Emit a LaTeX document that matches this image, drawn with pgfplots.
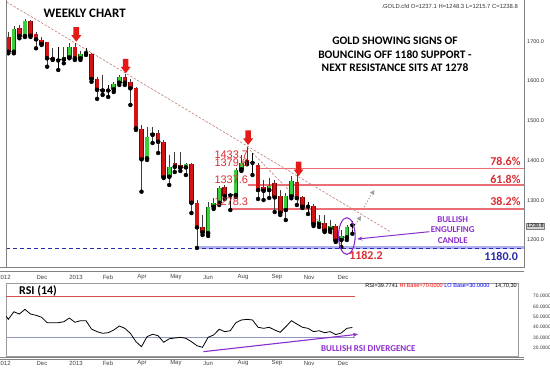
\documentclass[border=0pt]{standalone}
\usepackage{pgfplots}
\pgfplotsset{compat=1.18}
\usepackage{pgfplotstable}
\usepackage{fontspec}
\setmainfont{Liberation Sans}
\newfontfamily\calib{Carlito}
\usetikzlibrary{arrows.meta}

\definecolor{cRed}{RGB}{210,20,20}
\definecolor{cRedB}{RGB}{120,0,0}
\definecolor{cGrn}{RGB}{60,205,60}
\definecolor{cGrnB}{RGB}{0,95,0}
\definecolor{wick}{RGB}{60,60,60}
\definecolor{fib}{RGB}{236,110,118}
\definecolor{trend}{RGB}{195,125,115}
\definecolor{navy}{RGB}{40,40,170}
\definecolor{band}{RGB}{175,175,245}
\definecolor{purp}{RGB}{140,45,205}
\definecolor{lblred}{RGB}{215,45,50}
\definecolor{arrred}{RGB}{230,25,25}
\definecolor{frame}{RGB}{130,130,130}

\pgfplotstableread{
i O H L C
1 1711.5 1724.1 1669.7 1673.8
3 1732.6 1740.9 1707.5 1713.3
5 1751.8 1753.5 1710.7 1714.0
6 1718.3 1724.1 1682.3 1705.0
7 1703.2 1711.5 1690.6 1693.1
8 1697.4 1698.9 1636.0 1657.2
9 1657.9 1682.3 1652.9 1655.4
13 1684.8 1694.9 1652.9 1657.2
16 1667.2 1669.7 1598.0 1605.0
17 1605.0 1610.0 1555.0 1578.0
18 1580.0 1615.0 1565.0 1576.0
22 1609.4 1617.7 1590.0 1595.8
23 1598.3 1605.1 1539.7 1581.7
24 1581.7 1584.9 1476.8 1481.0
25 1478.5 1489.3 1321.5 1403.0
28 1468.5 1476.8 1418.9 1447.3
29 1447.3 1451.6 1356.0 1357.8
31 1393.0 1421.4 1371.1 1384.4
32 1388.7 1421.4 1373.6 1381.9
34 1391.2 1393.7 1267.9 1293.8
35 1293.8 1300.6 1180.0 1232.0
36 1232.0 1262.9 1212.6 1219.4
40 1332.6 1338.4 1303.2 1310.7
44 1401.3 1433.7 1390.5 1394.5
46 1388.7 1393.7 1303.2 1325.8
47 1332.6 1351.0 1300.6 1324.0
49 1342.7 1351.0 1270.4 1307.4
50 1310.7 1325.8 1262.9 1268.7
53 1346.7 1368.6 1288.1 1305.7
54 1308.9 1310.7 1280.5 1283.8
56 1285.5 1290.6 1235.2 1240.3
58 1243.5 1262.9 1220.1 1223.4
60 1235.2 1240.3 1195.0 1198.2
}\redtab

\pgfplotstableread{
i O H L C
2 1673.8 1738.4 1669.7 1730.9
4 1713.3 1756.0 1710.7 1751.8
11 1654.6 1684.8 1644.6 1661.2
12 1659.7 1694.9 1657.2 1684.8
14 1657.2 1676.3 1652.9 1668.0
20 1579.2 1597.5 1572.4 1592.5
21 1595.8 1615.1 1590.0 1609.4
26 1405.6 1484.3 1401.3 1459.9
27 1464.9 1484.3 1444.1 1470.0
30 1359.3 1413.9 1338.4 1384.4
33 1382.9 1393.7 1363.5 1390.5
37 1217.6 1295.6 1210.1 1282.3
38 1283.8 1305.7 1278.0 1293.8
39 1293.8 1335.9 1288.1 1330.1
42 1313.2 1381.2 1308.2 1376.1
43 1377.9 1413.9 1373.6 1394.5
48 1325.8 1356.0 1305.7 1335.9
51 1275.5 1318.3 1250.3 1310.7
52 1310.0 1361.0 1305.0 1349.2
57 1240.3 1262.9 1232.7 1248.6
59 1226.9 1250.3 1220.1 1235.2
61 1200.0 1225.2 1182.2 1210.1
62 1206.8 1237.7 1200.0 1233.5
}\grntab

\pgfplotstableread{
i O H L C
10 1651.6 1686.3 1627.7 1654.1
15 1670.5 1682.3 1665.5 1673.0
19 1576.0 1590.0 1560.0 1578.0
41 1312.0 1318.3 1275.5 1314.5
45 1396.2 1418.9 1363.5 1394.0
55 1285.5 1295.6 1265.4 1283.8
63 1237.1 1248.3 1215.7 1238.8
}\dojtab

\pgfplotsset{
  candle/.style={only marks, mark=none, forget plot,
    error bars/y dir=plus, error bars/y explicit, error bars/error mark=none},
  ticklbl/.style={font=\fontsize{6}{7}\selectfont, text=black!75},
}

\begin{document}
\begin{tikzpicture}[x=1bp,y=1bp]
% ---------------- main price panel ----------------
\begin{axis}[at={(6bp,101bp)}, anchor=south west, scale only axis,
  width=518bp, height=268bp,
  xmin=0.5856, xmax=93.92, ymin=1129.56, ymax=1803.77,
  axis line style={draw=none}, clip mode=individual,
  major tick length=0pt,
  /pgf/number format/assume math mode=true,
  ytick={1200,1300,1400,1500,1600,1700},
  yticklabel pos=right,
  yticklabel style={anchor=west, inner sep=0pt, xshift=3bp,
    font=\fontsize{5.5}{6}\selectfont, text=black!80,
    /pgf/number format/fixed, /pgf/number format/fixed zerofill,
    /pgf/number format/precision=1, /pgf/number format/1000 sep={}},
  xtick={7.07,13.2,18.96,25.1,31.2,37.0,43.3,49.4,55.2,61.3},
  xticklabels={Dec,2013,Feb,Apr,May,Jun,Aug,Sep,Nov,Dec},
  xticklabel style={ticklbl, anchor=center, yshift=-9bp},
]
% support 1180
\addplot[line width=3bp, color=band, forget plot] coordinates {(34.67,1180) (93.92,1180)};
\addplot[dash pattern=on 4bp off 3bp, line width=0.9bp, color=navy, forget plot] coordinates {(0.5856,1180) (93.92,1180)};
% fibonacci levels
\addplot[fib, line width=1.7bp, forget plot] coordinates {(40.9,1278.3) (93.92,1278.3)};
\addplot[fib, line width=1.7bp, forget plot] coordinates {(44.2,1337.6) (93.92,1337.6)};
\addplot[fib, line width=1.7bp, forget plot] coordinates {(45.7,1379.6) (93.92,1379.6)};
% trend lines
\addplot[trend, dash pattern=on 2.5bp off 1.5bp, line width=0.6bp, forget plot] coordinates {(0.712,1798.8) (69.77,1221.4)};
\addplot[trend, dash pattern=on 2.5bp off 1.5bp, line width=0.6bp, forget plot] coordinates {(44,1433.7) (61.5,1182.2)};
% wicks
\addplot[candle, error bars/error bar style={line width=0.7bp, wick}] table[x=i, y=L, y error expr={\thisrow{H}-\thisrow{L}}] {\redtab};
\addplot[candle, error bars/error bar style={line width=0.7bp, wick}] table[x=i, y=L, y error expr={\thisrow{H}-\thisrow{L}}] {\grntab};
\addplot[candle, error bars/error bar style={line width=0.7bp, black}] table[x=i, y=L, y error expr={\thisrow{H}-\thisrow{L}}] {\dojtab};
% bodies
\addplot[candle, error bars/error bar style={line width=4.6bp, cRedB}] table[x=i, y expr={min(\thisrow{O},\thisrow{C})}, y error expr={max(abs(\thisrow{C}-\thisrow{O}),2)}] {\redtab};
\addplot[candle, error bars/error bar style={line width=3.2bp, cRed}] table[x=i, y expr={min(\thisrow{O},\thisrow{C})}, y error expr={max(abs(\thisrow{C}-\thisrow{O}),2)}] {\redtab};
\addplot[candle, error bars/error bar style={line width=4.6bp, cGrnB}] table[x=i, y expr={min(\thisrow{O},\thisrow{C})}, y error expr={max(abs(\thisrow{C}-\thisrow{O}),2)}] {\grntab};
\addplot[candle, error bars/error bar style={line width=3.2bp, cGrn}] table[x=i, y expr={min(\thisrow{O},\thisrow{C})}, y error expr={max(abs(\thisrow{C}-\thisrow{O}),2)}] {\grntab};
\addplot[candle, error bars/error bar style={line width=4.6bp, black}] table[x=i, y expr={min(\thisrow{O},\thisrow{C})}, y error expr={max(abs(\thisrow{C}-\thisrow{O}),2.5)}] {\dojtab};
% red down arrows
\fill[arrred] (axis cs:13.25,1698.9) -- ++(-5bp,6.5bp) -- ++(2.2bp,0bp) -- ++(0bp,8bp) -- ++(5.6bp,0bp) -- ++(0bp,-8bp) -- ++(2.2bp,0bp) -- cycle;
\fill[arrred] (axis cs:22.15,1619.4) -- ++(-5bp,6.5bp) -- ++(2.2bp,0bp) -- ++(0bp,8bp) -- ++(5.6bp,0bp) -- ++(0bp,-8bp) -- ++(2.2bp,0bp) -- cycle;
\fill[arrred] (axis cs:44.2,1439.0) -- ++(-5bp,6.5bp) -- ++(2.2bp,0bp) -- ++(0bp,8bp) -- ++(5.6bp,0bp) -- ++(0bp,-8bp) -- ++(2.2bp,0bp) -- cycle;
\fill[arrred] (axis cs:53.3,1361.0) -- ++(-5bp,6.5bp) -- ++(2.2bp,0bp) -- ++(0bp,8bp) -- ++(5.6bp,0bp) -- ++(0bp,-8bp) -- ++(2.2bp,0bp) -- cycle;
% ellipse and purple arrow
\draw[purp, line width=1.1bp] (axis cs:62.0,1210) ellipse [x radius=8.3bp, y radius=18.3bp];
\draw[purp, line width=1bp, -{Stealth[length=5bp,width=4bp]}] (axis cs:76.86,1220.9) -- (axis cs:63.88,1202.5);
% grey dotted projection arrows
\draw[gray!75, line width=1.1bp, dotted, -{Triangle[length=4.5bp,width=4.5bp]}] (axis cs:62.95,1226) -- (axis cs:64.55,1260.4);
\draw[gray!75, line width=1.1bp, dotted, -{Triangle[length=4.5bp,width=4.5bp]}] (axis cs:65.1,1283) -- (axis cs:66.95,1325.8);
\end{axis}

% ---------------- RSI panel ----------------
\begin{axis}[at={(6bp,13bp)}, anchor=south west, scale only axis,
  width=512bp, height=73bp,
  xmin=0.5856, xmax=92.84, ymin=12.45, ymax=82.47,
  axis line style={frame!80, line width=0.5bp},
  major tick length=0pt,
  /pgf/number format/assume math mode=true,
  ytick={20,30,40,50,60,70},
  yticklabel pos=right,
  yticklabel style={anchor=west, inner sep=0pt, xshift=15bp,
    font=\fontsize{4.9}{5}\selectfont, text=black!80,
    /pgf/number format/fixed, /pgf/number format/fixed zerofill,
    /pgf/number format/precision=4},
  xtick={7.07,13.2,18.96,25.1,31.2,37.0,43.3,49.4,55.2,61.3},
  xticklabels={Dec,2013,Feb,Apr,May,Jun,Aug,Sep,Nov,Dec},
  xticklabel style={ticklbl, anchor=center, yshift=-7bp},
]
\addplot[color={rgb,255:red,215;green,80;blue,80}, line width=0.7bp, forget plot] coordinates {(0.5856,70) (63.5,70)};
\addplot[color={rgb,255:red,145;green,150;blue,190}, line width=0.9bp, forget plot] coordinates {(0.5856,30) (63.5,30)};
\addplot[black, line width=0.8bp] coordinates {
(0.5856,50.8)(1,47.6)(2,54.9)(3,52.7)(4,57.2)(5,52.7)(6,51.5)(7,49.6)(8,44.4)(9,44.4)
(10,44.4)(11,45.3)(12,48.9)(13,44.8)(14,46.3)(15,46.3)(16,38.3)(17,35.8)(18,34.2)(19,34.8)
(20,37.4)(21,41.2)(22,39.0)(23,34.2)(24,26.2)(25,21.4)(26,31.0)(27,33.3)(28,31.9)(29,25.6)
(30,29.0)(31,29.7)(32,30.4)(33,29.4)(34,26.2)(35,22.3)(36,20.8)(37,30.4)(38,32.6)(39,38.1)
(40,35.8)(41,36.7)(42,44.4)(43,47.0)(44,47.6)(45,47.0)(46,40.0)(47,39.0)(48,40.0)(49,37.4)
(50,35.2)(51,40.5)(52,46.3)(53,43.1)(54,40.0)(55,39.0)(56,35.8)(57,36.7)(58,34.8)(59,35.8)
(60,33.0)(61,34.5)(62,39.0)(63,39.8)};
\draw[purp, line width=1.1bp, -{Stealth[length=5bp,width=4bp]}] (axis cs:36.14,16.6) -- (axis cs:64.0,33.3);
\end{axis}

% ---------------- frames ----------------
\draw[frame, line width=0.8bp] (6,101) -- (6,369);
\draw[frame, line width=0.8bp] (524,101) -- (524,369);
\draw[frame, line width=0.9bp] (0,101.5) -- (524,101.5);
\draw[frame, line width=0.9bp] (0,98) -- (524,98);
\draw[frame, line width=0.9bp] (0,11.5) -- (524,11.5);
\draw[frame, line width=0.9bp] (0,9.3) -- (524,9.3);

% ---------------- texts ----------------
\node[font=\fontsize{6}{7}\selectfont, text=black!75] at (4,92) {2012};
\node[font=\fontsize{6}{7}\selectfont, text=black!75] at (4,6) {2012};
\node[draw=gray, fill=gray!35, inner sep=0.8bp, anchor=west, font=\fontsize{5.5}{6}\selectfont] at (526,143) {1238.8};
\node[font=\calib\bfseries\fontsize{13}{14}\selectfont] at (84.7,355.7) {WEEKLY CHART};
\node[font=\calib\bfseries\fontsize{11.5}{13.5}\selectfont, align=center] at (395,314.5) {GOLD SHOWING SIGNS OF\\BOUNCING OFF 1180 SUPPORT -\\NEXT RESISTANCE SITS AT 1278};
\node[anchor=east, inner sep=0pt, font=\fontsize{5.9}{6}\selectfont, text=black!80] at (518,363) {.GOLD.cfd O=1237.1 H=1248.3 L=1215.7 C=1238.8};
\node[font=\fontsize{11}{12}\selectfont, text=lblred] at (231.3,214) {1433.7};
\node[font=\fontsize{11}{12}\selectfont, text=lblred] at (231.3,206.7) {1379.6};
\node[font=\fontsize{11}{12}\selectfont, text=lblred] at (231.3,189.7) {1337.6};
\node[font=\fontsize{11}{12}\selectfont, text=lblred] at (231.3,167.3) {1278.3};
\node[anchor=east, inner sep=0pt, font=\calib\bfseries\fontsize{12}{13}\selectfont, text=lblred] at (520.7,207.3) {78.6\%};
\node[anchor=east, inner sep=0pt, font=\calib\bfseries\fontsize{12}{13}\selectfont, text=lblred] at (520.7,189.7) {61.8\%};
\node[anchor=east, inner sep=0pt, font=\calib\bfseries\fontsize{12}{13}\selectfont, text=lblred] at (520.7,167.3) {38.2\%};
\node[anchor=east, inner sep=0pt, font=\calib\bfseries\fontsize{12}{13}\selectfont, text=navy] at (518,112.3) {1180.0};
\node[font=\calib\bfseries\fontsize{12}{13}\selectfont, text=lblred] at (366,114) {1182.2};
\node[font=\calib\bfseries\fontsize{9}{10.7}\selectfont, text=purp, align=center] at (452.7,139) {BULLISH\\ENGULFING\\CANDLE};
\node[font=\calib\bfseries\fontsize{12}{13}\selectfont] at (38,78.3) {RSI (14)};
\node[anchor=east, inner sep=0pt, font=\fontsize{5.6}{6}\selectfont] at (517,83) {RSI=39.7741 \textcolor{red}{HI Base=70.0000} \textcolor{blue}{LO Base=30.0000}\quad 14,70,30};
\node[font=\calib\bfseries\fontsize{9}{10}\selectfont, text=purp] at (368.3,20.7) {BULLISH RSI DIVERGENCE};

\pgfresetboundingbox
\path[use as bounding box] (0,0) rectangle (550,369);
\end{tikzpicture}
\end{document}
